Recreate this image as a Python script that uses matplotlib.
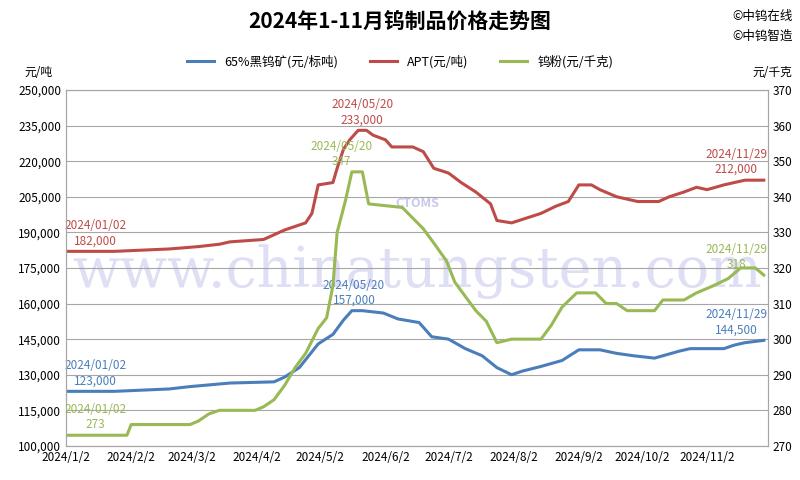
import numpy as np
import pandas as pd
import matplotlib
matplotlib.use('Agg')
import matplotlib.pyplot as plt
import matplotlib.dates as mdates

plt.rcParams['font.family'] = ['Noto Sans CJK SC', 'DejaVu Sans']

# 65% wolframite concentrate (yuan/standard ton)
ore_dates = ['2024-01-02', '2024-01-25', '2024-02-20', '2024-03-01', '2024-03-20', '2024-04-10',
             '2024-04-15', '2024-04-22', '2024-05-01', '2024-05-08', '2024-05-13', '2024-05-17',
             '2024-05-22', '2024-06-01', '2024-06-08', '2024-06-18', '2024-06-24', '2024-07-02',
             '2024-07-10', '2024-07-18', '2024-07-25', '2024-08-01', '2024-08-06', '2024-08-15',
             '2024-08-25', '2024-09-02', '2024-09-12', '2024-09-20', '2024-09-28', '2024-10-08',
             '2024-10-12', '2024-10-20', '2024-10-25', '2024-11-10', '2024-11-15', '2024-11-20',
             '2024-11-29']
ore_vals = [123000, 123000, 124000, 125000, 126500, 127000,
            129000, 133000, 143000, 147000, 153000, 157000,
            157000, 156000, 153500, 152000, 146000, 145000,
            141000, 138000, 133000, 130000, 131500, 133500,
            136000, 140500, 140500, 139000, 138000, 137000,
            138000, 140000, 141000, 141000, 142500, 143500,
            144500]

# APT (yuan/ton)
apt_dates = ['2024-01-02', '2024-01-25', '2024-02-20', '2024-03-05', '2024-03-15', '2024-03-20',
             '2024-04-05', '2024-04-10', '2024-04-15', '2024-04-25', '2024-04-28', '2024-05-01',
             '2024-05-08', '2024-05-10', '2024-05-13', '2024-05-16', '2024-05-20', '2024-05-24',
             '2024-05-27', '2024-06-02', '2024-06-05', '2024-06-15', '2024-06-20', '2024-06-25',
             '2024-07-02', '2024-07-08', '2024-07-15', '2024-07-22', '2024-07-25', '2024-08-01',
             '2024-08-08', '2024-08-15', '2024-08-22', '2024-08-28', '2024-09-02', '2024-09-08',
             '2024-09-12', '2024-09-20', '2024-09-30', '2024-10-10', '2024-10-15', '2024-10-22',
             '2024-10-28', '2024-11-02', '2024-11-10', '2024-11-15', '2024-11-20', '2024-11-29']
apt_vals = [182000, 182000, 183000, 184000, 185000, 186000,
            187000, 189000, 191000, 194000, 198000, 210000,
            211000, 217000, 225000, 229000, 233000, 233000,
            231000, 229000, 226000, 226000, 224000, 217000,
            215000, 211000, 207000, 202000, 195000, 194000,
            196000, 198000, 201000, 203000, 210000, 210000,
            208000, 205000, 203000, 203000, 205000, 207000,
            209000, 208000, 210000, 211000, 212000, 212000]

# tungsten powder (yuan/kg)
pow_dates = ['2024-01-02', '2024-01-31', '2024-02-02', '2024-03-01', '2024-03-05', '2024-03-10',
             '2024-03-15', '2024-04-01', '2024-04-05', '2024-04-10', '2024-04-15', '2024-04-20',
             '2024-04-25', '2024-05-01', '2024-05-05', '2024-05-08', '2024-05-10', '2024-05-14',
             '2024-05-17', '2024-05-22', '2024-05-25', '2024-06-10', '2024-06-15', '2024-06-20',
             '2024-06-25', '2024-07-01', '2024-07-05', '2024-07-10', '2024-07-15', '2024-07-20',
             '2024-07-25', '2024-08-01', '2024-08-15', '2024-08-20', '2024-08-25', '2024-09-01',
             '2024-09-10', '2024-09-15', '2024-09-20', '2024-09-25', '2024-10-08', '2024-10-12',
             '2024-10-22', '2024-10-28', '2024-11-05', '2024-11-12', '2024-11-18', '2024-11-25',
             '2024-11-29']
pow_vals = [273, 273, 276, 276, 277, 279,
            280, 280, 281, 283, 287, 292,
            296, 303, 306, 315, 330, 339,
            347, 347, 338, 337, 334, 331,
            327, 322, 316, 312, 308, 305,
            299, 300, 300, 304, 309, 313,
            313, 310, 310, 308, 308, 311,
            311, 313, 315, 317, 320, 320,
            318]

tick_dates = ['2024-%02d-02' % m for m in range(1, 12)]
tick_labels = ['2024/%d/2' % m for m in range(1, 12)]

c_ore = '#4a7ebb'
c_apt = '#be4b48'
c_pow = '#98b954'

fig = plt.figure(figsize=(8, 4.8), dpi=100)
ax = fig.add_axes([0.0825, 0.071, 0.8775, 0.7415])
ax2 = ax.twinx()

od = pd.to_datetime(ore_dates)
ad = pd.to_datetime(apt_dates)
pd_ = pd.to_datetime(pow_dates)
l1, = ax.plot(od, ore_vals, color=c_ore, lw=2.2, label='65%黑钨矿(元/标吨)')
l2, = ax.plot(ad, apt_vals, color=c_apt, lw=2.2, label='APT(元/吨)')
l3, = ax2.plot(pd_, pow_vals, color=c_pow, lw=2.2, label='钨粉(元/千克)')

ax.set_ylim(100000, 250000)
ax.set_yticks(np.arange(100000, 250001, 15000))
ax.set_yticklabels(['{:,}'.format(v) for v in range(100000, 250001, 15000)], fontsize=8.5)
ax2.set_ylim(270, 370)
ax2.set_yticks(np.arange(270, 371, 10))
ax2.tick_params(labelsize=8.5, length=0)
ax.tick_params(length=0, labelsize=8.5)
ax.grid(axis='y', color='#a6a6a6', lw=0.8)
ax.set_axisbelow(True)
ax.set_xlim(pd.Timestamp('2024-01-02'), pd.Timestamp('2024-12-01'))
ax.set_xticks(pd.to_datetime(tick_dates))
ax.set_xticklabels(tick_labels, fontsize=8.5)
for a in (ax, ax2):
    for s in a.spines.values():
        s.set_color('#a6a6a6')

# watermark
ax.text(0.5, 0.49, 'www.chinatungsten.com', transform=ax.transAxes, ha='center', va='center',
        fontsize=40, color='#c8c8ee', alpha=0.6, family='DejaVu Serif', zorder=0)
ax.text(0.5, 0.68, 'CTOMS', transform=ax.transAxes, ha='center', va='center',
        fontsize=9, color='#c8c8ee', fontweight='bold', style='italic', zorder=0)

# annotations
def note(axis, d, v, txt, color, dy):
    axis.annotate(txt, (pd.Timestamp(d), v), xytext=(0, dy), textcoords='offset points',
                  ha='center', va='bottom', fontsize=8.5, color=color, linespacing=1.2)

note(ax, '2024-01-16', 182000, '2024/01/02\n182,000', c_apt, 3)
note(ax, '2024-05-22', 233000, '2024/05/20\n233,000', c_apt, 3)
note(ax, '2024-11-16', 212000, '2024/11/29\n212,000', c_apt, 3)
note(ax, '2024-01-16', 123000, '2024/01/02\n123,000', c_ore, 3)
note(ax, '2024-05-18', 157000, '2024/05/20\n157,000', c_ore, 3)
note(ax, '2024-11-16', 144500, '2024/11/29\n144,500', c_ore, 3)
note(ax2, '2024-01-16', 273, '2024/01/02\n273', c_pow, 3)
note(ax2, '2024-05-12', 347, '2024/05/20\n347', c_pow, 3)
note(ax2, '2024-11-16', 318, '2024/11/29\n318', c_pow, 3)

fig.text(0.5, 0.955, '2024年1-11月钨制品价格走势图', ha='center', va='center',
         fontsize=15, fontweight='bold')
fig.text(0.915, 0.965, '©中钨在线', fontsize=9, va='center')
fig.text(0.915, 0.925, '©中钨智造', fontsize=9, va='center')
fig.text(0.03, 0.85, '元/吨', fontsize=8.5, va='center')
fig.text(0.94, 0.85, '元/千克', fontsize=8.5, va='center')
fig.legend(handles=[l1, l2, l3], loc='center', bbox_to_anchor=(0.5, 0.872), ncol=3,
           frameon=False, fontsize=9, handlelength=2.2, columnspacing=2.5)

fig.savefig('out.png', dpi=100)
